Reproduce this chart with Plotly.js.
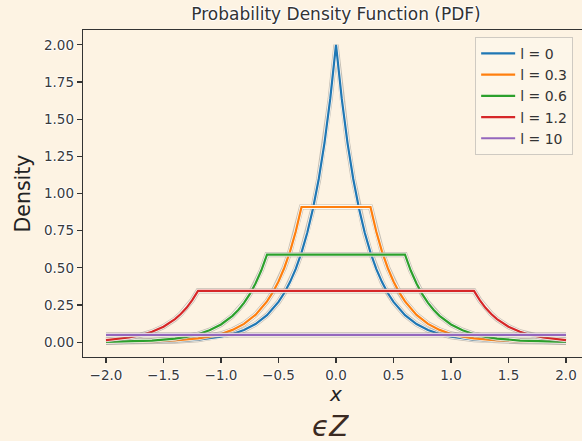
<!DOCTYPE html>
<html>
<head>
<meta charset="utf-8">
<script src="https://cdn.plot.ly/plotly-3.0.1.min.js"></script>
<style>
html, body { margin:0; padding:0; background:#fdf3e3; overflow:hidden; width:582px; height:441px; }
#chart { width:600px; height:441px; }
</style>
</head>
<body>
<div id="chart"></div>
<script>
// ---- data ----
var labels = ['l = 0', 'l = 0.3', 'l = 0.6', 'l = 1.2', 'l = 10'];
var colors = ['#1f77b4', '#ff7f0e', '#2ca02c', '#d62728', '#9467bd'];

var x_l0 = [-2.0,-1.8,-1.6,-1.4,-1.2,-1.0,-0.9,-0.8,-0.7,-0.6,-0.5,-0.45,-0.4,-0.35,-0.3,-0.25,-0.2,-0.15,-0.1,-0.05,0,
            0.05,0.1,0.15,0.2,0.25,0.3,0.35,0.4,0.45,0.5,0.6,0.7,0.8,0.9,1.0,1.2,1.4,1.6,1.8,2.0];
var y_l0 = [0.0007,0.0015,0.0033,0.0074,0.0165,0.0366,0.0546,0.0815,0.1216,0.1814,0.2707,0.3306,0.4038,0.4932,0.6024,0.7358,0.8987,1.0976,1.3406,1.6375,2.0,
            1.6375,1.3406,1.0976,0.8987,0.7358,0.6024,0.4932,0.4038,0.3306,0.2707,0.1814,0.1216,0.0815,0.0546,0.0366,0.0165,0.0074,0.0033,0.0015,0.0007];

var x_l03 = [-2.0,-1.8,-1.6,-1.4,-1.2,-1.1,-1.0,-0.9,-0.8,-0.7,-0.6,-0.55,-0.5,-0.45,-0.4,-0.35,-0.3,
             0.3,0.35,0.4,0.45,0.5,0.55,0.6,0.7,0.8,0.9,1.0,1.1,1.2,1.4,1.6,1.8,2.0];
var y_l03 = [0.0010,0.0023,0.0050,0.0112,0.0248,0.0371,0.0553,0.0825,0.1230,0.1835,0.2738,0.3344,0.4085,0.4989,0.6094,0.7443,0.9091,
             0.9091,0.7443,0.6094,0.4989,0.4085,0.3344,0.2738,0.1835,0.1230,0.0825,0.0553,0.0371,0.0248,0.0112,0.0050,0.0023,0.0010];

var x_l06 = [-2.0,-1.8,-1.6,-1.4,-1.3,-1.2,-1.1,-1.0,-0.9,-0.85,-0.8,-0.75,-0.7,-0.65,-0.6,
             0.6,0.65,0.7,0.75,0.8,0.85,0.9,1.0,1.1,1.2,1.3,1.4,1.6,1.8,2.0];
var y_l06 = [0.0022,0.0048,0.0108,0.0240,0.0358,0.0533,0.0796,0.1188,0.1772,0.2164,0.2643,0.3228,0.3943,0.4816,0.5882,
             0.5882,0.4816,0.3943,0.3228,0.2643,0.2164,0.1772,0.1188,0.0796,0.0533,0.0358,0.0240,0.0108,0.0048,0.0022];

var x_l12 = [-2.0,-1.9,-1.8,-1.7,-1.6,-1.5,-1.45,-1.4,-1.35,-1.3,-1.25,-1.2,
             1.2,1.25,1.3,1.35,1.4,1.45,1.5,1.6,1.7,1.8,1.9,2.0];
var y_l12 = [0.0141,0.0210,0.0313,0.0467,0.0696,0.1039,0.1268,0.1549,0.1892,0.2311,0.2823,0.3448,
             0.3448,0.2823,0.2311,0.1892,0.1549,0.1268,0.1039,0.0696,0.0467,0.0313,0.0210,0.0141];

var x_l10 = [-2.0, 2.0];
var y_l10 = [0.0488, 0.0488];

var xTickVals = [-2.0,-1.5,-1.0,-0.5,0.0,0.5,1.0,1.5,2.0];
var xTickText = ['\u22122.0','\u22121.5','\u22121.0','\u22120.5','0.0','0.5','1.0','1.5','2.0'];
var yTickVals = [0,0.25,0.5,0.75,1.0,1.25,1.5,1.75,2.0];
var yTickText = ['0.00','0.25','0.50','0.75','1.00','1.25','1.50','1.75','2.00'];

// ---- build traces ----
var xs = [x_l0, x_l03, x_l06, x_l12, x_l10];
var ys = [y_l0, y_l03, y_l06, y_l12, y_l10];
var traces = [];
for (var i = 0; i < xs.length; i++) {
  traces.push({x: xs[i], y: ys[i], mode:'lines', showlegend:false, hoverinfo:'skip',
               line:{color:'rgba(150,145,140,0.55)', width:5.2}});
  traces.push({x: xs[i], y: ys[i], mode:'lines', showlegend:false, hoverinfo:'skip',
               line:{color:'rgba(255,252,246,0.95)', width:3.8}});
  traces.push({x: xs[i], y: ys[i], mode:'lines', name: labels[i],
               line:{color: colors[i], width:2.2}});
}

var halo = '1px 0 1px #fff, -1px 0 1px #fff, 0 1px 1px #fff, 0 -1px 1px #fff';
var tickFont = {family:'DejaVu Sans', size:13.5, color:'#3a3a3a', shadow: halo};

var layout = {
  width: 600, height: 441,
  margin: {l:83, r:11, t:30, b:84},
  paper_bgcolor:'#fdf3e3', plot_bgcolor:'#fdf3e3',
  title: {text:'Probability Density Function (PDF)', font:{family:'DejaVu Sans', size:17, color:'#333333', shadow: halo},
          x:0.5, xref:'paper', xanchor:'center', y:0.968, yref:'container', yanchor:'middle'},
  xaxis: {range:[-2.2,2.2], tickvals:xTickVals, ticktext:xTickText, tickfont:tickFont,
          ticks:'outside', ticklen:5, tickwidth:1.2, tickcolor:'#333',
          showline:true, linecolor:'#333', linewidth:1.3, mirror:true,
          showgrid:false, zeroline:false,
          title:{text:'x', font:{family:'DejaVu Sans', size:20, color:'#222', style:'italic'}, standoff:5}},
  yaxis: {range:[-0.1,2.1], tickvals:yTickVals, ticktext:yTickText, tickfont:tickFont,
          ticks:'outside', ticklen:5, tickwidth:1.2, tickcolor:'#333',
          showline:true, linecolor:'#333', linewidth:1.3, mirror:false,
          showgrid:false, zeroline:false,
          title:{text:'Density', font:{family:'DejaVu Sans', size:20.5, color:'#222'}, standoff:7}},
  legend: {x:0.775, xanchor:'left', y:0.979, yanchor:'top',
           bgcolor:'rgba(253,246,234,0.85)', bordercolor:'#cfcac2', borderwidth:1,
           itemwidth:34,
           font:{family:'DejaVu Sans', size:14, color:'#333'}, tracegroupgap:0},
  annotations: [{text:'\u03f5Z', xref:'paper', yref:'paper', x:0.49, y:-0.2095, xanchor:'center', yanchor:'middle',
                 height:24, valign:'middle',
                 showarrow:false, font:{family:'DejaVu Sans', size:28, color:'#3b2a22', style:'italic'}}]
};

Plotly.newPlot('chart', traces, layout, {displayModeBar:false, staticPlot:true});
</script>
</body>
</html>
